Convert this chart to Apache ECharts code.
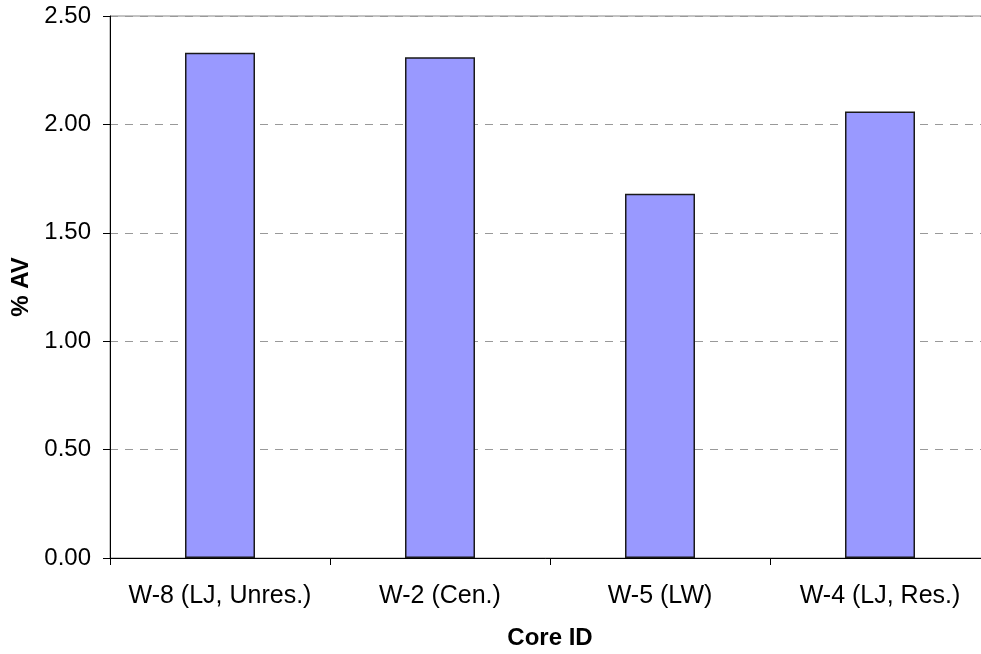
<!DOCTYPE html>
<html>
<head>
<meta charset="utf-8">
<script src="https://cdn.jsdelivr.net/npm/echarts@6/dist/echarts.min.js"></script>
<style>
html,body{margin:0;padding:0;background:#fff;}
#chart{width:981px;height:654px;}
</style>
</head>
<body>
<div id="chart"></div>
<script>
var categories = ["W-8 (LJ, Unres.)", "W-2 (Cen.)", "W-5 (LW)", "W-4 (LJ, Res.)"];
var avValues = [2.33, 2.31, 1.68, 2.06];
var yTicks = {min: 0, max: 2.5, interval: 0.5};

var chart = echarts.init(document.getElementById('chart'), null, {renderer: 'canvas'});
var font = 'Liberation Sans, Arial, sans-serif';
chart.setOption({
  animation: false,
  backgroundColor: '#ffffff',
  grid: {left: 110, top: 16, width: 880, height: 542, outerBoundsMode: 'none', containLabel: false,
         show: true, borderColor: '#888888', borderWidth: 1, backgroundColor: 'transparent'},
  xAxis: {
    type: 'category',
    data: categories,
    name: 'Core ID',
    nameLocation: 'middle',
    nameGap: 68,
    nameTextStyle: {fontFamily: font, fontSize: 24, fontWeight: 'bold', color: '#000'},
    axisLine: {lineStyle: {color: '#000', width: 1}},
    axisTick: {show: true, length: 7, lineStyle: {color: '#000'}},
    axisLabel: {fontFamily: font, fontSize: 25, color: '#000', margin: 26, interval: 0},
    splitLine: {show: false}
  },
  yAxis: {
    type: 'value',
    min: yTicks.min, max: yTicks.max, interval: yTicks.interval,
    name: '% AV',
    nameLocation: 'middle',
    nameGap: 73,
    nameTextStyle: {fontFamily: font, fontSize: 24, fontWeight: 'bold', color: '#000'},
    axisLine: {show: true, lineStyle: {color: '#000', width: 1}},
    axisTick: {show: true, length: 7, lineStyle: {color: '#000'}},
    axisLabel: {fontFamily: font, fontSize: 24, color: '#000', margin: 19,
      formatter: function (v) { return v.toFixed(2); }},
    splitLine: {show: true, lineStyle: {color: '#999999', width: 1, type: [8, 7]}}
  },
  series: [{
    type: 'bar',
    data: avValues,
    barWidth: 70,
    itemStyle: {color: '#9999FF', borderColor: '#1a1a1a', borderWidth: 1.5}
  }]
});
</script>
</body>
</html>
